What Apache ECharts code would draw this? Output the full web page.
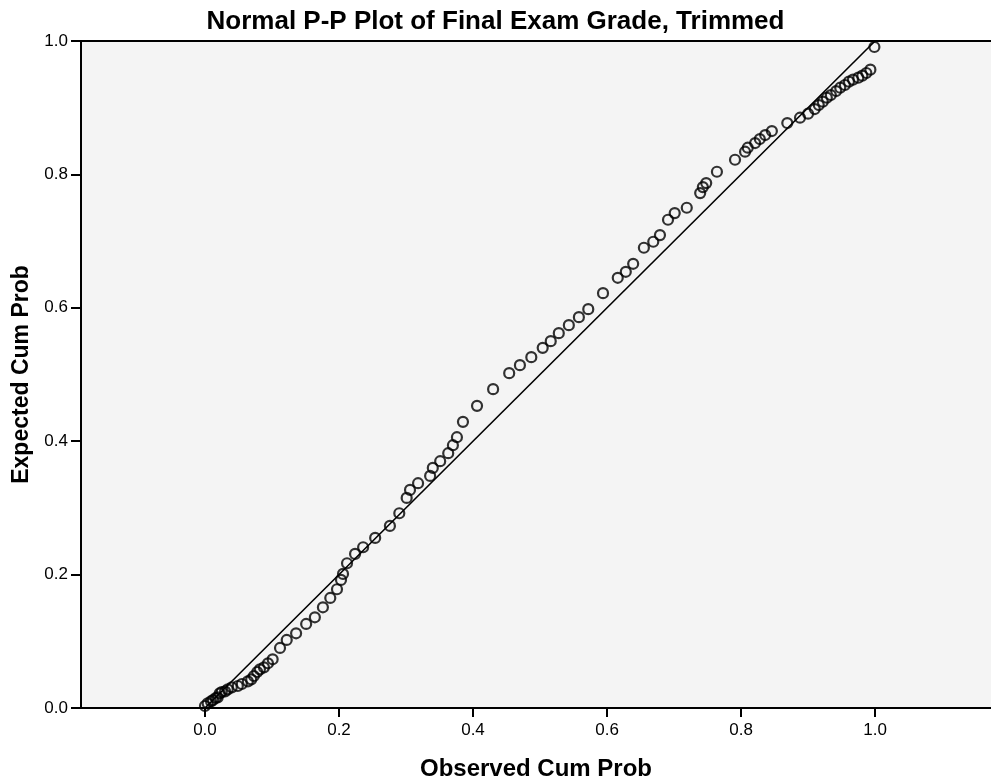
<!DOCTYPE html>
<html>
<head>
<meta charset="utf-8">
<script src="https://cdn.jsdelivr.net/npm/echarts@6/dist/echarts.min.js"></script>
<style>
  html, body { margin: 0; padding: 0; background: #fff; }
  #chart { width: 991px; height: 782px; }
</style>
</head>
<body>
<div id="chart"></div>
<script>
// Observed cumulative probability of each case
const observedCumProb = [
  0.000, 0.004, 0.009, 0.012, 0.016, 0.019, 0.022, 0.025, 0.030, 0.034,
  0.040, 0.049, 0.055, 0.064, 0.069, 0.073, 0.078, 0.082, 0.088, 0.094,
  0.101, 0.112, 0.122, 0.136, 0.151, 0.164, 0.176, 0.187, 0.197, 0.203,
  0.206, 0.212, 0.224, 0.236, 0.254, 0.276, 0.290, 0.301, 0.306, 0.318,
  0.336, 0.340, 0.351, 0.363, 0.370, 0.376, 0.385, 0.406, 0.430, 0.454,
  0.470, 0.487, 0.504, 0.516, 0.528, 0.543, 0.558, 0.572, 0.594, 0.616,
  0.628, 0.639, 0.655, 0.669, 0.679, 0.691, 0.701, 0.719, 0.739, 0.743,
  0.748, 0.764, 0.791, 0.806, 0.810, 0.821, 0.828, 0.836, 0.846, 0.869,
  0.888, 0.900, 0.910, 0.916, 0.922, 0.928, 0.934, 0.942, 0.948, 0.955,
  0.961, 0.967, 0.975, 0.981, 0.987, 0.993, 0.999
];

// Expected cumulative probability under the normal distribution
const expectedCumProb = [
  0.003, 0.007, 0.010, 0.012, 0.015, 0.016, 0.022, 0.024, 0.025, 0.028,
  0.031, 0.033, 0.036, 0.040, 0.043, 0.048, 0.054, 0.058, 0.061, 0.067,
  0.073, 0.090, 0.102, 0.112, 0.126, 0.136, 0.151, 0.165, 0.178, 0.192,
  0.201, 0.217, 0.231, 0.241, 0.255, 0.273, 0.292, 0.315, 0.327, 0.337,
  0.348, 0.360, 0.370, 0.382, 0.394, 0.406, 0.429, 0.453, 0.478, 0.502,
  0.514, 0.526, 0.540, 0.550, 0.562, 0.574, 0.586, 0.598, 0.622, 0.645,
  0.654, 0.666, 0.690, 0.699, 0.709, 0.732, 0.742, 0.750, 0.772, 0.781,
  0.787, 0.804, 0.822, 0.834, 0.840, 0.847, 0.853, 0.859, 0.865, 0.877,
  0.885, 0.891, 0.898, 0.904, 0.909, 0.915, 0.919, 0.925, 0.930, 0.934,
  0.939, 0.942, 0.945, 0.948, 0.952, 0.957, 0.991
];

// Reference diagonal
const diagonal = [[0, 0], [1, 1]];

// Tick positions on both axes
const tickValues = [0, 0.2, 0.4, 0.6, 0.8, 1.0];

const FONT = '"Liberation Sans", Arial, sans-serif';

const points = observedCumProb.map((x, i) => [x, expectedCumProb[i]]);

const chart = echarts.init(document.getElementById('chart'), null, { renderer: 'canvas' });

chart.setOption({
  animation: false,
  backgroundColor: '#ffffff',
  title: {
    text: 'Normal P-P Plot of Final Exam Grade, Trimmed',
    left: 'center',
    top: 4,
    textStyle: { fontFamily: FONT, fontSize: 26, fontWeight: 'bold', color: '#000' }
  },
  grid: {
    left: 81, right: 0, top: 41, bottom: 74,
    containLabel: false,
    outerBoundsMode: 'none',
    show: true,
    backgroundColor: '#f4f4f4',
    borderWidth: 0
  },
  xAxis: [
    {
      type: 'value',
      position: 'bottom',
      min: -0.185,
      max: 1.173,
      name: 'Observed Cum Prob',
      nameLocation: 'middle',
      nameGap: 49,
      nameTextStyle: { fontFamily: FONT, fontSize: 24, fontWeight: 'bold', color: '#000' },
      axisLine: { show: true, onZero: false, lineStyle: { color: '#000', width: 2 } },
      axisTick: { show: true, customValues: tickValues, length: 9, lineStyle: { color: '#000', width: 2 } },
      axisLabel: {
        customValues: tickValues,
        margin: 14,
        fontFamily: FONT, fontSize: 17, color: '#000',
        formatter: v => v.toFixed(1)
      },
      splitLine: { show: false }
    },
    {
      type: 'value',
      position: 'top',
      min: -0.185,
      max: 1.173,
      axisLine: { show: true, onZero: false, lineStyle: { color: '#000', width: 2 } },
      axisTick: { show: false },
      axisLabel: { show: false },
      splitLine: { show: false }
    }
  ],
  yAxis: {
    type: 'value',
    min: 0,
    max: 1,
    interval: 0.2,
    name: 'Expected Cum Prob',
    nameLocation: 'middle',
    nameGap: 48,
    nameTextStyle: { fontFamily: FONT, fontSize: 23, fontWeight: 'bold', color: '#000' },
    axisLine: { show: true, onZero: false, lineStyle: { color: '#000', width: 2 } },
    axisTick: { show: true, length: 10, lineStyle: { color: '#000', width: 2 } },
    axisLabel: {
      margin: 13,
      fontFamily: FONT, fontSize: 17, color: '#000',
      formatter: v => v.toFixed(1)
    },
    splitLine: { show: false }
  },
  series: [
    {
      type: 'line',
      data: diagonal,
      symbol: 'none',
      silent: true,
      lineStyle: { color: '#000', width: 1.6 }
    },
    {
      type: 'scatter',
      data: points,
      symbol: 'circle',
      symbolSize: 10,
      itemStyle: { color: 'rgba(0,0,0,0)', borderColor: '#000', borderWidth: 2.2 }
    }
  ]
});
</script>
</body>
</html>
